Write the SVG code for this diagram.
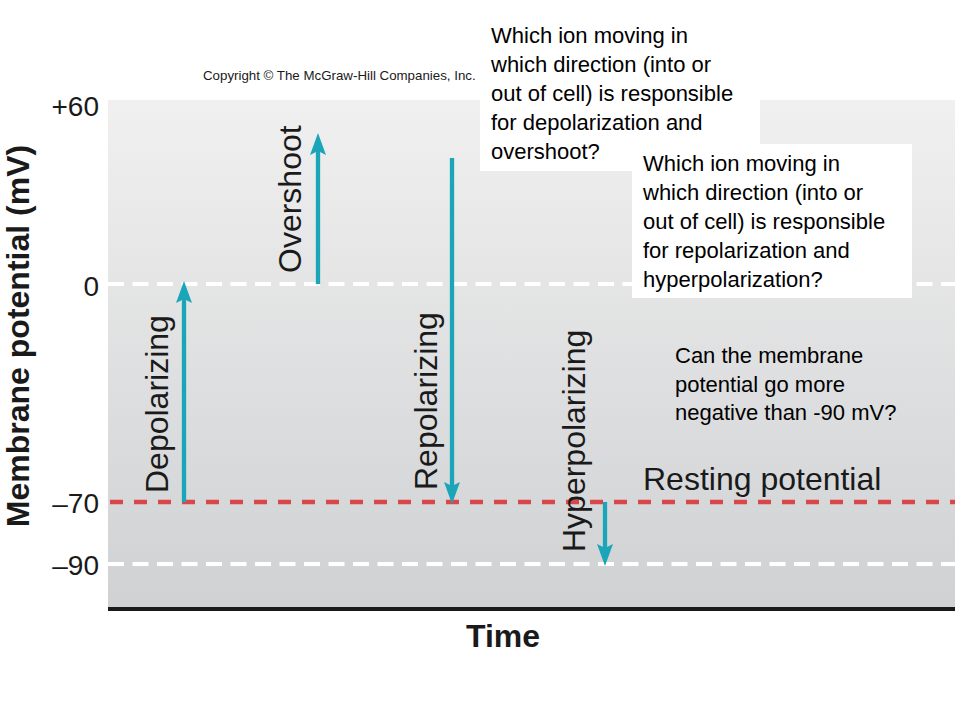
<svg xmlns="http://www.w3.org/2000/svg" width="960" height="720" viewBox="0 0 960 720">
  <defs>
    <linearGradient id="bg" x1="0" y1="0" x2="0" y2="1">
      <stop offset="0" stop-color="#f0f0f0"/>
      <stop offset="1" stop-color="#d0d1d3"/>
    </linearGradient>
    <style>
      .lbl { font-family: "Liberation Sans", Arial, sans-serif; fill: #1a1a1a; }
      .tick { font-size: 28px; text-anchor: end; }
      .rot { font-size: 32px; }
      .q { font-family: "Liberation Sans", Arial, sans-serif; font-size: 22px; fill: #000; }
      .white-dash { stroke: #ffffff; stroke-width: 4; stroke-dasharray: 16 8.5; fill: none; }
      .red-dash { stroke: #d9474b; stroke-width: 4.5; stroke-dasharray: 13 11; fill: none; }
      .shaft { stroke: #1ba5b9; stroke-width: 4.3; fill: none; }
      .head { fill: #1ba5b9; }
      .box { fill: #ffffff; }
    </style>
  </defs>

  <rect x="0" y="0" width="960" height="720" fill="#ffffff"/>

  <g id="chart">
    <rect x="108" y="100" width="847" height="507" fill="url(#bg)"/>
    <rect x="108" y="607" width="847" height="4" fill="#1a1a1a"/>
    <line class="white-dash" x1="108" y1="284" x2="955" y2="284"/>
    <line class="white-dash" x1="108" y1="564" x2="955" y2="564"/>
    <line class="red-dash" x1="110" y1="502" x2="955" y2="502"/>
  </g>

  <g id="axis-labels">
    <text class="lbl" x="203" y="80" font-size="13.3">Copyright © The McGraw-Hill Companies, Inc.</text>
    <text class="lbl tick" x="99" y="116">+60</text>
    <text class="lbl tick" x="99" y="296">0</text>
    <text class="lbl tick" x="99" y="513">–70</text>
    <text class="lbl tick" x="99" y="575">–90</text>
    <text class="lbl" transform="translate(29,336) rotate(-90)" font-size="32" font-weight="bold" text-anchor="middle">Membrane potential (mV)</text>
    <text class="lbl" x="503" y="647" font-size="32" font-weight="bold" text-anchor="middle">Time</text>
    <text class="lbl" x="643" y="490" font-size="32">Resting potential</text>
  </g>

  <g id="connectors">
    <g id="arrow-depolarizing">
      <line class="shaft" x1="184" y1="502" x2="184" y2="298"/>
      <path class="head" d="M184,281 L192,303 L184,299 L176,303 Z"/>
    </g>
    <g id="arrow-overshoot">
      <line class="shaft" x1="318" y1="284" x2="318" y2="150"/>
      <path class="head" d="M318,133 L326,155 L318,151 L310,155 Z"/>
    </g>
    <g id="arrow-repolarizing">
      <line class="shaft" x1="452" y1="158" x2="452" y2="487"/>
      <path class="head" d="M452,504 L460,482 L452,486 L444,482 Z"/>
    </g>
    <g id="arrow-hyperpolarizing">
      <line class="shaft" x1="605" y1="502" x2="605" y2="549"/>
      <path class="head" d="M605,566 L613,544 L605,548 L597,544 Z"/>
    </g>
  </g>

  <g id="node-depolarizing">
    <text class="lbl rot" transform="translate(168,493) rotate(-90)">Depolarizing</text>
  </g>
  <g id="node-overshoot">
    <text class="lbl rot" transform="translate(301,273) rotate(-90)">Overshoot</text>
  </g>
  <g id="node-repolarizing">
    <text class="lbl rot" transform="translate(437,490) rotate(-90)">Repolarizing</text>
  </g>
  <g id="node-hyperpolarizing">
    <text class="lbl rot" transform="translate(585,552) rotate(-90)">Hyperpolarizing</text>
  </g>

  <g id="question-1">
    <rect class="box" x="480" y="15" width="280" height="156"/>
    <text class="q" x="491" y="43">Which ion moving in</text>
    <text class="q" x="491" y="72">which direction (into or</text>
    <text class="q" x="491" y="101">out of cell) is responsible</text>
    <text class="q" x="491" y="130">for depolarization and</text>
    <text class="q" x="491" y="159">overshoot?</text>
  </g>

  <g id="question-2">
    <rect class="box" x="632" y="144" width="280" height="154"/>
    <text class="q" x="643" y="171">Which ion moving in</text>
    <text class="q" x="643" y="200">which direction (into or</text>
    <text class="q" x="643" y="229">out of cell) is responsible</text>
    <text class="q" x="643" y="258">for repolarization and</text>
    <text class="q" x="643" y="287">hyperpolarization?</text>
  </g>

  <g id="question-3">
    <text class="q" x="675" y="363">Can the membrane</text>
    <text class="q" x="675" y="392">potential go more</text>
    <text class="q" x="675" y="420">negative than -90 mV?</text>
  </g>
</svg>
